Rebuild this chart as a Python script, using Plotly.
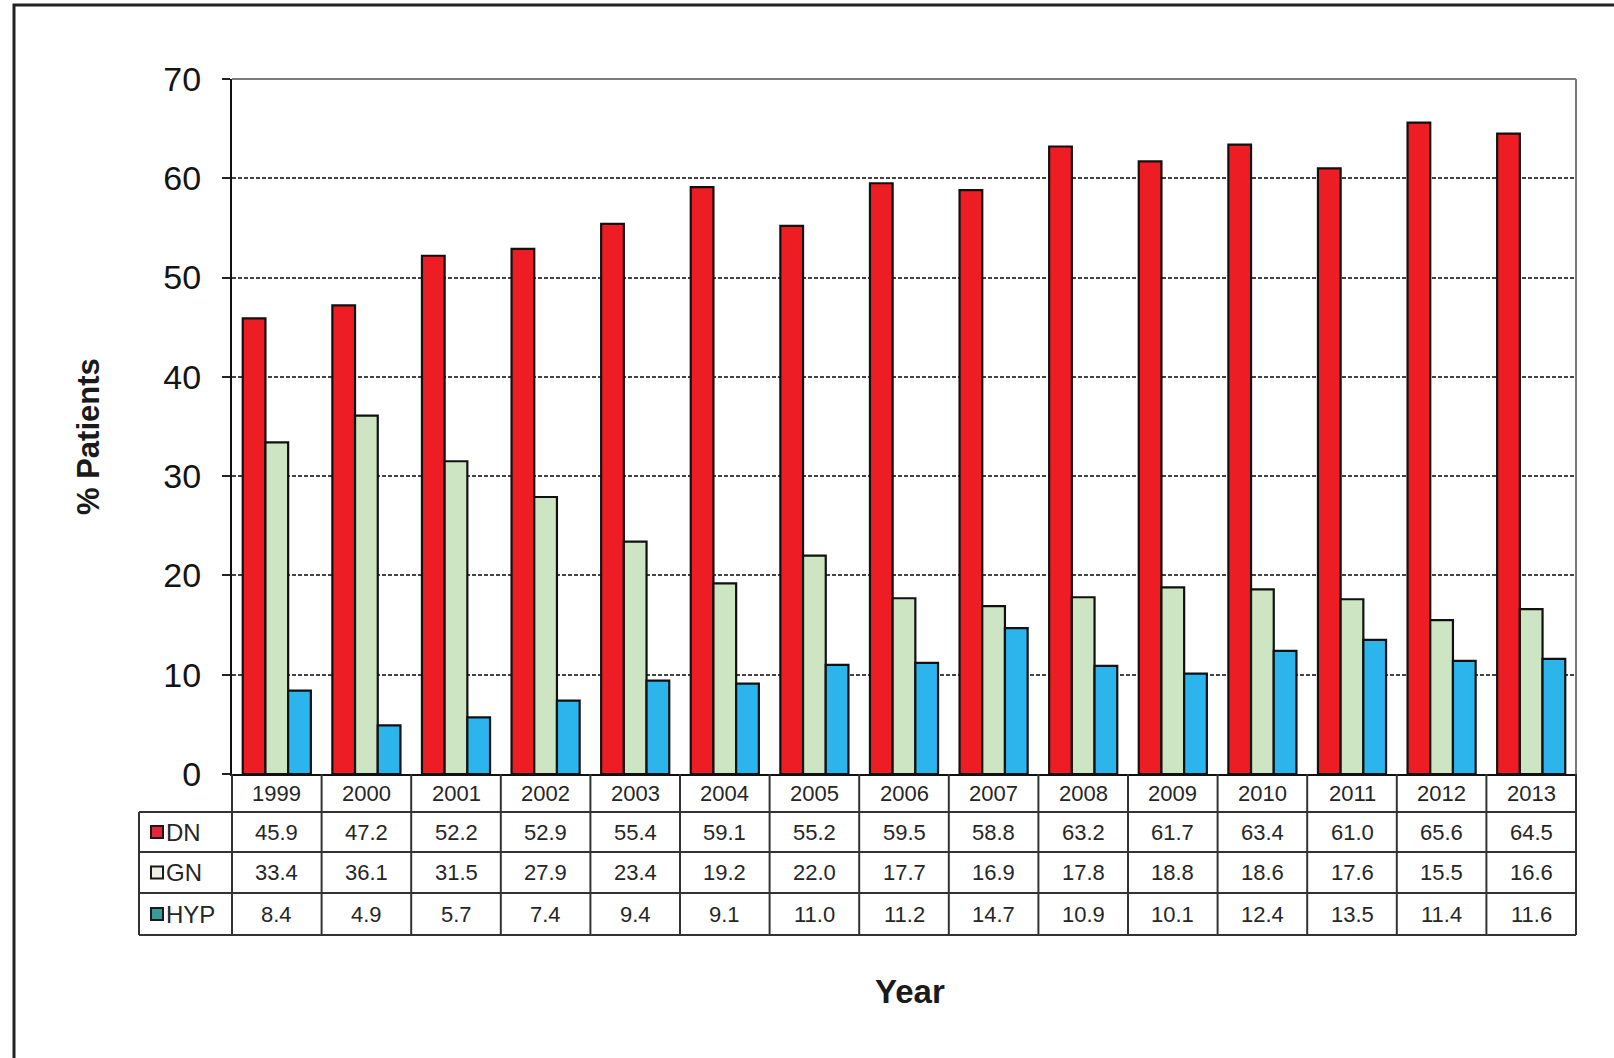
import plotly.graph_objects as go

years = ["1999", "2000", "2001", "2002", "2003", "2004", "2005", "2006",
         "2007", "2008", "2009", "2010", "2011", "2012", "2013"]
dn = [45.9, 47.2, 52.2, 52.9, 55.4, 59.1, 55.2, 59.5, 58.8, 63.2, 61.7, 63.4, 61.0, 65.6, 64.5]
gn = [33.4, 36.1, 31.5, 27.9, 23.4, 19.2, 22.0, 17.7, 16.9, 17.8, 18.8, 18.6, 17.6, 15.5, 16.6]
hyp = [8.4, 4.9, 5.7, 7.4, 9.4, 9.1, 11.0, 11.2, 14.7, 10.9, 10.1, 12.4, 13.5, 11.4, 11.6]
series_names = ["DN", "GN", "HYP"]
series_values = [dn, gn, hyp]
y_ticks = [0, 10, 20, 30, 40, 50, 60, 70]

W, H = 1614, 1058
L, R, T, B = 232, 1576, 79, 774  # plot area in pixels
pw, ph = R - L, B - T


def px(x):
    return (x - L) / pw


def py(y):
    return (B - y) / ph


colors = ["#EE1D23", "#CDE5C3", "#2BB5EC"]
key_colors = ["#E8243A", "#EEF1E6", "#3A9A98"]
FONT = "Liberation Sans, Arial, sans-serif"

fig = go.Figure()
for name, vals, c in zip(series_names, series_values, colors):
    fig.add_trace(go.Bar(x=years, y=vals, name=name, marker=dict(color=c, line=dict(color="#111111", width=2.2))))

shapes = []
annotations = []

# outer frame (only left and top visible)
shapes.append(dict(type="rect", xref="paper", yref="paper", x0=px(14), x1=px(1640), y0=py(5), y1=py(1090),
                   line=dict(color="#222222", width=3), fillcolor="rgba(0,0,0,0)", layer="below"))
# plot top/right border in gray
shapes.append(dict(type="line", xref="paper", yref="paper", x0=0, x1=1, y0=1, y1=1,
                   line=dict(color="#7A7A7A", width=2)))
shapes.append(dict(type="line", xref="paper", yref="paper", x0=1, x1=1, y0=0, y1=1,
                   line=dict(color="#7A7A7A", width=2)))

# table geometry
row_lines = [812, 852, 893, 935]
row_centers = [793, 832, 872.5, 914]
tcol = "#333333"
for yl in row_lines:
    shapes.append(dict(type="line", xref="paper", yref="paper", x0=px(139), x1=1, y0=py(yl), y1=py(yl),
                       line=dict(color=tcol, width=2)))
shapes.append(dict(type="line", xref="paper", yref="paper", x0=px(139), x1=px(139), y0=py(812), y1=py(935),
                   line=dict(color=tcol, width=2)))
shapes.append(dict(type="line", xref="paper", yref="paper", x0=0, x1=0, y0=0, y1=py(935),
                   line=dict(color=tcol, width=2)))
shapes.append(dict(type="line", xref="paper", yref="paper", x0=1, x1=1, y0=0, y1=py(935),
                   line=dict(color=tcol, width=2)))
for k in range(1, len(years)):
    shapes.append(dict(type="line", xref="x", yref="paper", x0=k - 0.5, x1=k - 0.5, y0=0, y1=py(935),
                       line=dict(color=tcol, width=2)))

tfont = dict(family=FONT, size=22, color="#262626")
lfont = dict(family=FONT, size=24, color="#262626")
# year row (category index positions on the x axis)
for i, yr in enumerate(years):
    annotations.append(dict(x=i, y=py(row_centers[0]), xref="x", yref="paper", text=yr, showarrow=False,
                            font=tfont, xanchor="center", yanchor="middle"))
# data rows
for r, (name, vals) in enumerate(zip(series_names, series_values)):
    yc = py(row_centers[r + 1])
    for i, v in enumerate(vals):
        annotations.append(dict(x=i, y=yc, xref="x", yref="paper", text=f"{v:.1f}", showarrow=False,
                                font=tfont, xanchor="center", yanchor="middle"))
    annotations.append(dict(x=px(164), y=yc, xref="paper", yref="paper", text=name, showarrow=False,
                            font=lfont, xanchor="left", yanchor="middle"))
    yc_px = row_centers[r + 1]
    shapes.append(dict(type="rect", xref="paper", yref="paper", x0=px(151), x1=px(163),
                       y0=py(yc_px - 6), y1=py(yc_px + 6), fillcolor=key_colors[r],
                       line=dict(color="#1a1a1a", width=2)))

# axis titles
annotations.append(dict(x=px(88), y=py(437), xref="paper", yref="paper", text="<b>% Patients</b>",
                        textangle=-90, showarrow=False, font=dict(family=FONT, size=31, color="#1a1a1a"),
                        xanchor="center", yanchor="middle"))
annotations.append(dict(x=px(910), y=py(991), xref="paper", yref="paper", text="<b>Year</b>",
                        showarrow=False, font=dict(family=FONT, size=33, color="#1a1a1a"),
                        xanchor="center", yanchor="middle"))

fig.update_layout(
    width=W, height=H,
    margin=dict(l=L, r=W - R, t=T, b=H - B, pad=0),
    paper_bgcolor="white", plot_bgcolor="white",
    barmode="group", bargap=0.24, bargroupgap=0,
    showlegend=False,
    shapes=shapes, annotations=annotations,
    xaxis=dict(type="category", showticklabels=False, ticks="", showgrid=False,
               showline=True, linecolor="#111111", linewidth=2, zeroline=False,
               range=[-0.5, len(years) - 0.5]),
    yaxis=dict(range=[0, 70], tickvals=y_ticks, ticks="outside", ticklen=8, tickwidth=2,
               tickcolor="#222222", showline=True, linecolor="#111111", linewidth=2,
               showgrid=True, gridcolor="#444444", gridwidth=1.5, griddash="4px,2px",
               zeroline=False, ticklabelstandoff=14,
               tickfont=dict(family=FONT, size=34, color="#141414")),
)

fig.write_html("out.html")
